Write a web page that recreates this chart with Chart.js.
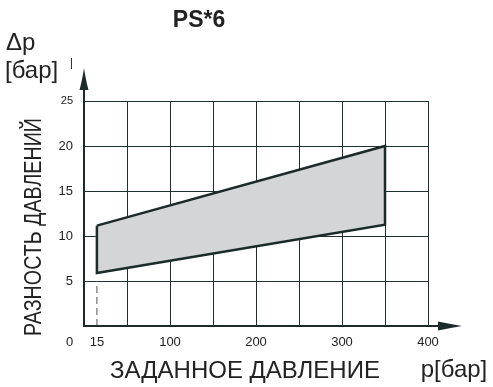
<!DOCTYPE html>
<html>
<head>
<meta charset="utf-8">
<script src="https://cdn.jsdelivr.net/npm/chart.js@4/dist/chart.umd.min.js"></script>
<style>
html,body{margin:0;padding:0;background:#fff;}
canvas{display:block;}
</style>
</head>
<body>
<canvas id="c" width="493" height="387"></canvas>
<script>
// ---- data ----
const title = 'PS*6';
const xTickLabels = [0, 15, 100, 200, 300, 400];
const xGridValues = [0, 15, 50, 100, 150, 200, 250, 300, 350, 400];
const yTickLabels = [5, 10, 15, 20, 25];
const setPressure = [15, 350, 350, 15, 15];          // p [бар]
const pressureDiff = [11.15, 20, 11.25, 5.9, 11.15];   // Δp [бар]
const markerX = [15, 15];
const markerY = [0, 5];
const yTitle = 'РАЗНОСТЬ ДАВЛЕНИЙ';
const xTitle = 'ЗАДАННОЕ ДАВЛЕНИЕ';
const xUnit = 'p[бар]';
const yUnit1 = 'Δp';
const yUnit2 = '[бар]';

const ink = '#1c2a2a';
const gridCol = '#1f2f2f';

const polygon = setPressure.map((x, i) => ({x, y: pressureDiff[i]}));
const marker = markerX.map((x, i) => ({x, y: markerY[i]}));

const decor = {
  id: 'decor',
  afterDraw(chart) {
    const ctx = chart.ctx;
    const xs = chart.scales.x, ys = chart.scales.y;
    const x0 = xs.getPixelForValue(0), y0 = ys.getPixelForValue(0);
    const xEnd = xs.getPixelForValue(400), yTop = ys.getPixelForValue(25);
    ctx.save();
    // axes
    ctx.strokeStyle = ink; ctx.fillStyle = ink; ctx.lineWidth = 2;
    ctx.beginPath();
    ctx.moveTo(x0, y0 + 1); ctx.lineTo(x0, yTop - 15);
    ctx.moveTo(x0 - 1, y0); ctx.lineTo(xEnd + 12, y0);
    ctx.stroke();
    // y arrow
    ctx.beginPath();
    ctx.moveTo(x0, yTop - 33);
    ctx.quadraticCurveTo(x0 + 2, yTop - 20, x0 + 4.5, yTop - 11);
    ctx.lineTo(x0 - 4.5, yTop - 11);
    ctx.quadraticCurveTo(x0 - 2, yTop - 20, x0, yTop - 33);
    ctx.fill();
    // x arrow
    ctx.beginPath();
    ctx.moveTo(xEnd + 34, y0);
    ctx.quadraticCurveTo(xEnd + 22, y0 - 2, xEnd + 10, y0 - 4.5);
    ctx.lineTo(xEnd + 10, y0 + 4.5);
    ctx.quadraticCurveTo(xEnd + 22, y0 + 2, xEnd + 34, y0);
    ctx.fill();
    // small stray tick near unit
    ctx.lineWidth = 1; ctx.strokeStyle = '#333';
    ctx.beginPath(); ctx.moveTo(71.5, 58); ctx.lineTo(71.5, 69); ctx.stroke();

    // texts
    ctx.fillStyle = '#222';
    ctx.textBaseline = 'alphabetic';
    ctx.textAlign = 'center';
    ctx.font = 'bold 23px "Liberation Sans", Arial, sans-serif';
    ctx.fillText(title, 199, 27);
    ctx.font = '24px "Liberation Sans", Arial, sans-serif';
    ctx.textAlign = 'left';
    ctx.fillText(yUnit1, 6, 50);
    ctx.fillText(yUnit2, 5, 78);
    ctx.textAlign = 'center';
    ctx.fillText(xTitle, 245, 378);
    ctx.fillText(xUnit, 454, 377);
    // rotated y title (condensed)
    ctx.save();
    ctx.translate(34, 227);
    ctx.rotate(-Math.PI / 2);
    ctx.scale(0.82, 1);
    ctx.textBaseline = 'middle';
    ctx.fillText(yTitle, 0, 0);
    ctx.restore();
    ctx.restore();
  }
};

new Chart(document.getElementById('c'), {
  type: 'line',
  data: {
    datasets: [
      {
        data: polygon,
        borderColor: ink,
        borderWidth: 2.5,
        backgroundColor: '#d4d5d7',
        fill: 'shape',
        tension: 0,
        pointRadius: 0,
        borderJoinStyle: 'miter'
      },
      {
        data: marker,
        borderColor: '#555',
        borderWidth: 1,
        borderDash: [7, 4],
        fill: false,
        pointRadius: 0
      }
    ]
  },
  options: {
    responsive: false,
    animation: false,
    parsing: true,
    layout: { padding: { top: 101, right: 65, left: 0, bottom: 0 } },
    plugins: { legend: { display: false }, tooltip: { enabled: false }, title: { display: false } },
    scales: {
      x: {
        type: 'linear', min: 0, max: 400, z: 1,
        afterBuildTicks(scale) { scale.ticks = xGridValues.map(v => ({ value: v })); },
        afterFit(scale) { scale.height = 61; },
        border: { display: false },
        grid: {
          drawTicks: false, lineWidth: 1,
          color: c => (c.tick && (c.tick.value === 15 || c.tick.value === 0)) ? 'rgba(0,0,0,0)' : gridCol
        },
        ticks: {
          autoSkip: false, maxRotation: 0, padding: 9, color: '#222',
          font: { family: '"Liberation Sans", Arial, sans-serif', size: 13 },
          callback: v => xTickLabels.includes(v) ? (v === 0 ? '0' + '        ' : String(v)) : ''
        }
      },
      y: {
        type: 'linear', min: 0, max: 25, z: 1,
        afterFit(scale) { scale.width = 84; },
        border: { display: false },
        grid: {
          drawTicks: false, lineWidth: 1,
          color: c => (c.tick && c.tick.value === 0) ? 'rgba(0,0,0,0)' : gridCol
        },
        ticks: {
          stepSize: 5, padding: 11, color: '#222',
          font: c => ({ family: '"Liberation Sans", Arial, sans-serif', size: (c.tick && c.tick.value === 25) ? 11 : 13 }),
          callback: v => yTickLabels.includes(v) ? String(v) : ''
        }
      }
    }
  },
  plugins: [decor]
});
</script>
</body>
</html>
